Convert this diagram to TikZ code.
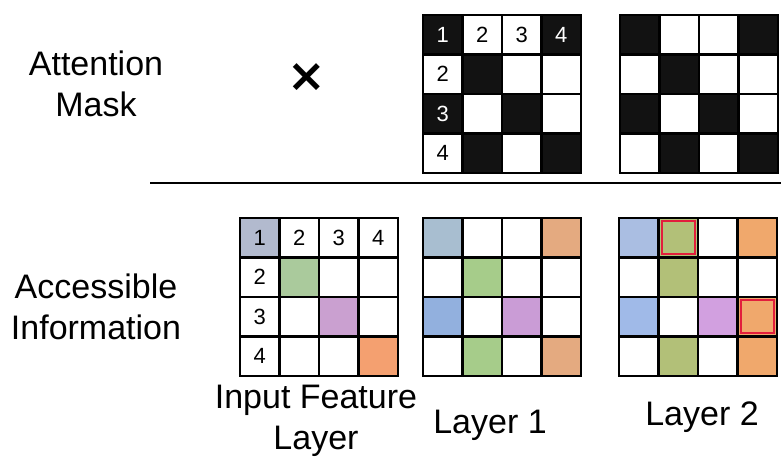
\documentclass[tikz,border=0pt]{standalone}
\usepackage{fontspec}
\setmainfont{Liberation Sans}
\newfontfamily\symfont{DejaVu Sans}
\usepackage{tikz}
\usetikzlibrary{positioning,calc}
\usepackage{xcolor}
\definecolor{mk}{RGB}{18,18,18}
\definecolor{ib}{RGB}{178,186,206}
\definecolor{ig}{RGB}{170,202,156}
\definecolor{ip}{RGB}{202,160,208}
\definecolor{io}{RGB}{244,160,112}
\definecolor{lb}{RGB}{168,190,208}
\definecolor{lbb}{RGB}{146,176,222}
\definecolor{lg}{RGB}{166,204,138}
\definecolor{lp}{RGB}{202,156,214}
\definecolor{lo}{RGB}{228,170,128}
\definecolor{nb}{RGB}{170,190,226}
\definecolor{nbb}{RGB}{160,186,232}
\definecolor{ng}{RGB}{178,192,120}
\definecolor{np}{RGB}{210,160,224}
\definecolor{no}{RGB}{240,168,108}
\definecolor{hlred}{RGB}{226,30,60}
\newcommand{\bigfont}{\fontsize{34}{41}\selectfont}
\newcommand{\numfont}{\fontsize{22}{24}\selectfont}

\begin{document}
\begin{tikzpicture}[x=1pt, y=-1pt, every node/.style={font=\bigfont},
    cell/.style={draw=black, line width=2.5pt, minimum size=39.5pt,
                 inner sep=0pt, outer sep=0pt},
    num/.style={font=\numfont, inner sep=0pt},
    hl/.style={draw=hlred, line width=1.8pt, minimum size=33pt, inner sep=0pt}]
    \useasboundingbox (0,0) rectangle (781,460);

    % attention masks (top row)
    \foreach \g/\gx in {mask1/423, mask2/620}{
        \foreach \row [count=\r] in {{mk,white,white,mk},{white,mk,white,white},
                                     {mk,white,mk,white},{white,mk,white,mk}}{
            \foreach \col [count=\c] in \row
                \node[cell, fill=\col] (\g-\r-\c) at ({\gx+39.5*(\c-0.5)},{15+39.5*(\r-0.5)}) {};
        }
    }
    \node[num, text=white] (mn1) at (mask1-1-1) {1};
    \node[num] (mn2) at (mask1-1-2) {2};
    \node[num] (mn3) at (mask1-1-3) {3};
    \node[num, text=white] (mn4) at (mask1-1-4) {4};
    \node[num] (mr2) at (mask1-2-1) {2};
    \node[num, text=white] (mr3) at (mask1-3-1) {3};
    \node[num] (mr4) at (mask1-4-1) {4};

    % accessible information (bottom row)
    \foreach \row [count=\r] in {{ib,white,white,white},{white,ig,white,white},
                                 {white,white,ip,white},{white,white,white,io}}{
        \foreach \col [count=\c] in \row
            \node[cell, fill=\col] (inp-\r-\c) at ({240+39.5*(\c-0.5)},{218+39.5*(\r-0.5)}) {};
    }
    \foreach \row [count=\r] in {{lb,white,white,lo},{white,lg,white,white},
                                 {lbb,white,lp,white},{white,lg,white,lo}}{
        \foreach \col [count=\c] in \row
            \node[cell, fill=\col] (lay1-\r-\c) at ({423+39.5*(\c-0.5)},{218+39.5*(\r-0.5)}) {};
    }
    \foreach \row [count=\r] in {{nb,ng,white,no},{white,ng,white,white},
                                 {nbb,white,np,no},{white,ng,white,no}}{
        \foreach \col [count=\c] in \row
            \node[cell, fill=\col] (lay2-\r-\c) at ({619+39.5*(\c-0.5)},{218+39.5*(\r-0.5)}) {};
    }
    \foreach \c in {1,...,4}
        \node[num] (in\c) at (inp-1-\c) {\c};
    \foreach \r in {2,3,4}
        \node[num] (ir\r) at (inp-\r-1) {\r};
    \node[hl] (hl1) at (lay2-1-2) {};
    \node[hl] (hl2) at (lay2-3-4) {};

    % labels
    \node[align=center] (attn) at (96,84) {Attention\\Mask};
    \node[align=center] (acc) at (96,307) {Accessible\\Information};
    \node[font=\symfont\bfseries\fontsize{46}{46}\selectfont] (times) at (307,78) {×};
    \node[align=center] (lin) at (316,421) {Input Feature\\Layer};
    \node (l1) at (490,425) {Layer 1};
    \node (l2) at (702,417) {Layer 2};

    \coordinate (sepL) at (150,183);
    \coordinate (sepR) at (781,183);
    \draw[line width=2pt] (sepL) -- (sepR);
\end{tikzpicture}
\end{document}
